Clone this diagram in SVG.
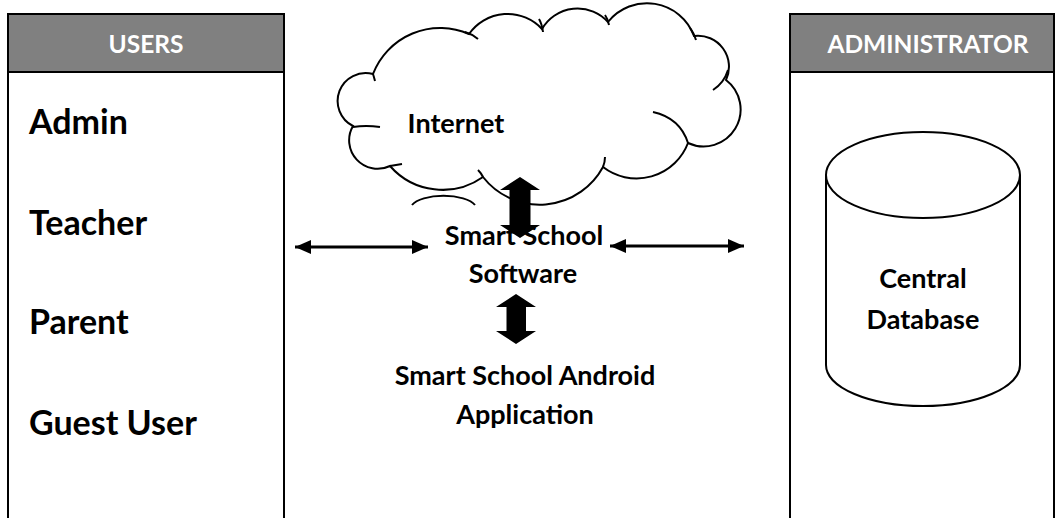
<svg xmlns="http://www.w3.org/2000/svg" width="1055" height="518" viewBox="0 0 1055 518">
  <style>
    text { font-family: Lato, "Open Sans", "Liberation Sans", sans-serif; font-weight: 700; fill: #000; }
    .hdr { fill: #808080; stroke: #000; stroke-width: 2; }
    .hdrtxt { fill: #fff; font-size: 24.5px; text-anchor: middle; }
    .panel { fill: #fff; stroke: #000; stroke-width: 2; }
    .role { font-size: 34px; }
    .mid { font-size: 27px; text-anchor: middle; }
    .outline { fill: #fff; stroke: #000; stroke-width: 2; }
    .crease { fill: none; stroke: #000; stroke-width: 2; }
    .thin { stroke: #000; stroke-width: 3; fill: none; }
    .block { fill: #000; stroke: none; }
  </style>
  <defs>
    <marker id="head" viewBox="0 0 16 14" refX="16" refY="7" markerWidth="16" markerHeight="14" markerUnits="userSpaceOnUse" orient="auto-start-reverse">
      <path d="M0,0 L16,7 L0,14 z" fill="#000"/>
    </marker>
  </defs>
  <rect width="1055" height="518" fill="#fff"/>

  <g id="users">
    <rect class="panel" x="8" y="14" width="276" height="510"/>
    <rect class="hdr" x="8" y="14" width="276" height="58"/>
    <text class="hdrtxt" x="146" y="53">USERS</text>
    <text class="role" x="29" y="134">Admin</text>
    <text class="role" x="29" y="235">Teacher</text>
    <text class="role" x="29" y="334">Parent</text>
    <text class="role" x="29" y="435">Guest User</text>
  </g>

  <g id="administrator">
    <rect class="panel" x="790" y="14" width="264" height="510"/>
    <rect class="hdr" x="790" y="14" width="264" height="58"/>
    <text class="hdrtxt" x="928" y="53">ADMINISTRATOR</text>
  </g>

  <g id="database">
    <path class="outline" d="M826,175 L826,365 A97,41 0 0 0 1020,365 L1020,175"/>
    <ellipse class="outline" cx="923" cy="175" rx="97" ry="43"/>
    <text class="mid" x="923" y="288">Central</text>
    <text class="mid" x="923" y="329">Database</text>
  </g>

  <g id="internet">
    <path class="outline" d="M373,74 A72,72 0 0 1 469,34 A47,47 0 0 1 542,29 A41,41 0 0 1 608,22 A50,50 0 0 1 694,36 A31,31 0 0 1 726,80 A37,37 0 0 1 688,143 A55,55 0 0 1 603,167 A72,72 0 0 1 483,177 A70,70 0 0 1 390,166 A28.5,28.5 0 0 1 353,126 A28,28 0 0 1 373,74 Z"/>
    <path class="crease" d="M465,32 Q472,34 478,39 M539,19 Q542,24 543,32 M605,15 Q608,19 609,25 M690,28 Q694,33 696,40 M728,70 Q724,83 713,90 M653,112 Q680,118 688,143 M603,167 Q605,162 605,157 M478,170 Q481,173 483,177 M390,166 Q396,165 402,164 M353,127 Q366,125 380,127 M373,74 Q374,77 375,81"/>
    <path class="crease" d="M412,205 A33,13 0 0 1 475,205"/>
    <text class="mid" x="456" y="133">Internet</text>
  </g>

  <g id="connectors">
    <line class="thin" x1="295" y1="247" x2="428" y2="247" marker-start="url(#head)" marker-end="url(#head)"/>
    <line class="thin" x1="610" y1="246" x2="744" y2="246" marker-start="url(#head)" marker-end="url(#head)"/>
    <polygon class="block" points="520,177 540,190 530.5,190 530.5,225 540,225 520,238 500,225 509.5,225 509.5,190 500,190"/>
    <polygon class="block" points="516,294 536,307 526,307 526,331 536,331 516,344 496,331 506.5,331 506.5,307 496,307"/>
  </g>

  <g id="software">
    <text class="mid" x="524" y="245">Smart School</text>
    <text class="mid" x="523" y="283">Software</text>
  </g>

  <g id="android">
    <text class="mid" x="525" y="385">Smart School Android</text>
    <text class="mid" x="525" y="424">Application</text>
  </g>
</svg>
